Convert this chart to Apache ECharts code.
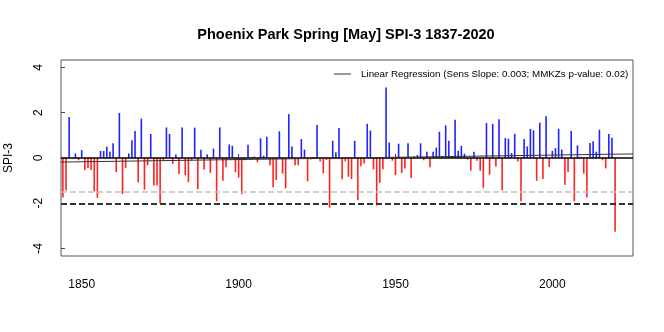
<!DOCTYPE html>
<html>
<head>
<meta charset="utf-8">
<script src="https://cdn.jsdelivr.net/npm/echarts@6/dist/echarts.min.js"></script>
<style>html,body{margin:0;padding:0;background:#fff}#c{width:664px;height:332px}</style>
</head>
<body>
<div id="c"></div>
<script>
// ---- data ----
var titleText = 'Phoenix Park Spring [May] SPI-3 1837-2020';
var yName = 'SPI-3';
var firstYear = 1844;
var spi = [
 -1.74,-1.44, 1.81,-0.05, 0.20,-0.10, 0.35,-0.54,-0.44,-0.53, // 1844-1853
 -1.47,-1.76, 0.31, 0.31, 0.50, 0.28, 0.65,-0.62, 1.99,-1.59, // 1854-1863
 -0.44, 0.20, 0.78, 1.19,-1.07, 1.74,-1.40,-0.32, 1.06,-1.21, // 1864-1873
 -1.22,-2.01,-0.10, 1.35, 1.06,-0.26, 0.16,-0.71, 1.35,-0.76, // 1874-1883
 -1.07,-0.12, 1.34,-1.38, 0.37,-0.51, 0.16,-0.66, 0.41,-1.91, // 1884-1893
  1.35,-1.01,-0.41, 0.60, 0.54,-0.63,-0.87,-1.60,-0.10, 0.59, // 1894-1903
 -0.05, 0.06,-0.19, 0.87, 0.10, 0.94,-0.32,-1.29,-0.97, 1.18, // 1904-1913
 -0.69,-1.34, 1.94, 0.51,-0.32,-0.32, 0.84, 0.37,-1.03,-0.07, // 1914-1923
  0.03, 1.46,-0.16,-0.68,-0.09,-2.19, 0.76, 0.25, 1.32,-0.94, // 1924-1933
 -0.15,-0.83,-0.93, 0.76,-1.87,-0.37,-0.24, 1.51, 1.21,-0.50, // 1934-1943
 -2.10,-1.10,-0.50, 3.12, 0.68,-0.12,-0.75, 0.63,-0.66,-0.46, // 1944-1953
  0.65,-0.88, 0.06, 0.13, 0.65,-0.10, 0.28,-0.41, 0.28, 0.46, // 1954-1963
  1.16, 0.08, 1.44, 0.76, 0.08, 1.69, 0.32, 0.54, 0.19,-0.07, // 1964-1973
 -0.56, 0.28,-0.12,-0.56,-1.32, 1.54,-0.74, 1.50,-0.38, 1.71, // 1974-1983
 -1.43, 0.88, 0.85, 0.22, 1.07,-0.15,-1.91, 0.84, 0.51, 1.29, // 1984-1993
  1.22,-1.01, 1.56,-0.93, 1.85,-0.40, 0.31, 0.43, 1.29, 0.37, // 1994-2003
 -1.18,-0.62, 1.19,-1.91, 0.56, 0.05,-0.69,-1.75, 0.66, 0.74, // 2004-2013
  0.28, 1.25,-0.10,-0.46, 1.06, 0.90,-3.26                     // 2014-2020
];
var xTicks = [1850, 1900, 1950, 2000];
var yTicks = [-4, -2, 0, 2, 4];
var xRange = [1843.4, 2025.7];
var yRange = [-4.33, 4.33];
var regName = 'Linear Regression (Sens Slope: 0.003; MMKZs p-value: 0.02)';
var regYears = [1843.4, 2025.7];
var regValues = [-0.18, 0.18];
var zeroLevel = 0;
var moderateDrought = -1.5;
var severeDrought = -2;

// ---- build ----
var barData = spi.map(function (v, i) { return [firstYear + i, v]; });
var regData = regYears.map(function (y, i) { return [y, regValues[i]]; });
var font = 'Liberation Sans, Arial, Helvetica, sans-serif';

var chart = echarts.init(document.getElementById('c'), null, {renderer: 'canvas'});
chart.setOption({
  animation: false,
  backgroundColor: '#fff',
  title: {
    text: titleText, left: 341, top: 22, textAlign: 'center',
    textStyle: {fontFamily: font, fontSize: 14.5, fontWeight: 'bold', color: '#000'}
  },
  legend: {
    data: [{name: regName, icon: 'rect'}],
    left: 329, top: 64, itemWidth: 17, itemHeight: 1, itemGap: 0,
    textStyle: {fontFamily: font, fontSize: 9.8, color: '#000', padding: [0, 0, 0, 5]},
    selectedMode: false
  },
  grid: {left: 61, right: 31, top: 60, bottom: 76, show: true, borderColor: '#555', borderWidth: 1,
         backgroundColor: 'transparent', containLabel: false, outerBoundsMode: 'none'},
  xAxis: {
    type: 'value', min: xRange[0], max: xRange[1],
    axisLine: {show: false},
    axisTick: {show: true, inside: true, length: 4, lineStyle: {color: '#444'}, customValues: xTicks},
    axisLabel: {customValues: xTicks, margin: 23, fontFamily: font, fontSize: 12, color: '#000',
                formatter: function (v) { return String(v); }},
    splitLine: {show: false}
  },
  yAxis: {
    type: 'value', min: yRange[0], max: yRange[1],
    name: yName, nameLocation: 'middle', nameRotate: 90, nameGap: 46,
    nameTextStyle: {fontFamily: font, fontSize: 12, color: '#000'},
    axisLine: {show: false},
    axisTick: {show: true, inside: true, length: 4, lineStyle: {color: '#444'}, customValues: yTicks},
    axisLabel: {customValues: yTicks, rotate: 90, margin: 16, fontFamily: font, fontSize: 12, color: '#000'},
    splitLine: {show: false}
  },
  series: [
    {
      type: 'bar', name: 'SPI', data: barData, barWidth: 1.6, silent: true,
      itemStyle: {color: function (p) { return p.value[1] >= 0 ? '#2222ff' : '#ff2222'; }},
      markLine: {
        silent: true, symbol: 'none', label: {show: false}, z: 5,
        data: [
          {yAxis: moderateDrought, lineStyle: {color: '#c0c0c0', type: [6, 3], width: 1.5}},
          {yAxis: severeDrought, lineStyle: {color: '#333', type: [6, 3], width: 2}},
          {yAxis: zeroLevel, lineStyle: {color: '#000', type: 'solid', width: 1.6}}
        ]
      }
    },
    {
      type: 'line', name: regName, data: regData, symbol: 'none', silent: true,
      lineStyle: {color: '#333', width: 1}, itemStyle: {color: '#333'}, z: 6
    }
  ]
});
</script>
</body>
</html>
